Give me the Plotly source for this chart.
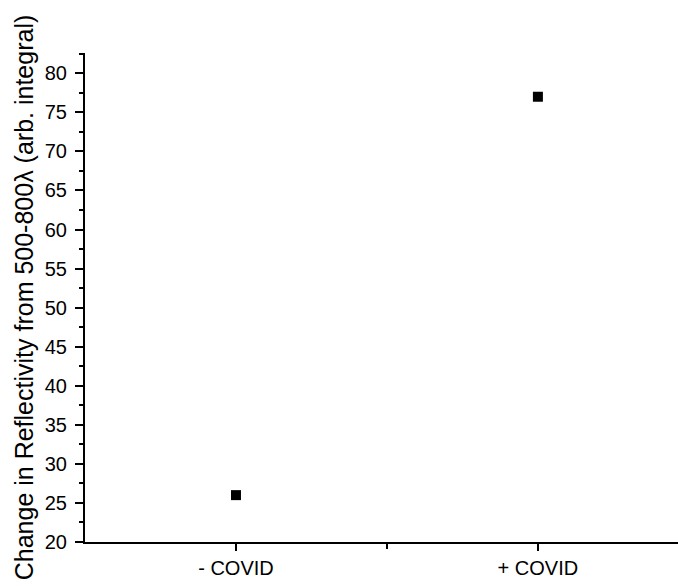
import plotly.graph_objects as go

categories = ["- COVID", "+ COVID"]
positions = [1, 2]
values = [26, 77]

fig = go.Figure()
fig.add_trace(go.Scatter(
    x=positions, y=values, mode="markers",
    marker=dict(symbol="square", size=10, color="black"),
    showlegend=False,
))

font = "Liberation Sans, Arial, sans-serif"
fig.update_layout(
    width=678, height=586,
    margin=dict(l=85, r=0, t=53, b=44),
    plot_bgcolor="white", paper_bgcolor="white",
    font=dict(family=font, size=20, color="black"),
)
fig.update_xaxes(
    range=[0.5, 2.464], tickmode="array",
    tickvals=positions, ticktext=categories,
    showline=True, linecolor="black", linewidth=2,
    ticks="outside", ticklen=7, tickwidth=2, tickcolor="black",
    minor=dict(tickmode="array", tickvals=[1.5], ticks="outside", ticklen=5,
               tickwidth=2, tickcolor="black"),
    showgrid=False, zeroline=False, automargin=False,
    tickfont=dict(size=20),
)
fig.update_yaxes(
    range=[20, 82.6], tick0=20, dtick=5,
    showline=True, linecolor="black", linewidth=2,
    ticks="outside", ticklen=8, tickwidth=2, tickcolor="black",
    minor=dict(dtick=2.5, tick0=20, ticks="outside", ticklen=4, tickwidth=2, tickcolor="black"),
    showgrid=False, zeroline=False, automargin=False,
    tickfont=dict(size=20), ticklabelstandoff=4,
    title=dict(text="Change in Reflectivity from 500-800λ (arb. integral)",
               font=dict(size=25), standoff=4),
)
fig.write_html("out.html", config={"displayModeBar": False},
               post_script="document.body.style.margin='0';document.body.style.overflow='hidden';")
